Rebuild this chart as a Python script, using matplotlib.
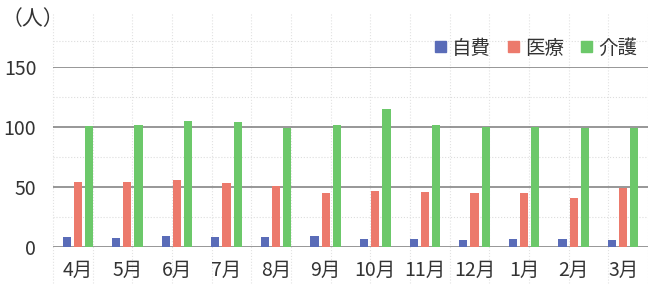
import numpy as np
import matplotlib.pyplot as plt
from matplotlib.patches import Patch

plt.rcParams['font.family'] = ['Noto Sans CJK JP', 'DejaVu Sans']

# 月別の利用者数
months = ['4月', '5月', '6月', '7月', '8月', '9月', '10月', '11月', '12月', '1月', '2月', '3月']
jihi = [8, 7.5, 9.5, 8, 8, 9, 7, 7, 5.5, 7, 7, 5.5]
iryo = [54, 54, 56, 53.5, 50.5, 45, 47, 46, 45, 45, 41, 49]
kaigo = [100.5, 101.5, 105, 104, 99, 102, 115, 102, 100, 100, 99.5, 99]

colors = ['#5a6cb8', '#ec7a6c', '#6cc86a']
names = ['自費', '医療', '介護']

fig = plt.figure(figsize=(6.48, 2.86), dpi=100)
ax = fig.add_axes([53 / 648, 1 - 247 / 286, 1 - 53 / 648, 180 / 286])

x = np.arange(len(months))
w = 0.165
off = 0.225
for i, vals in enumerate([jihi, iryo, kaigo]):
    ax.bar(x + (i - 1) * off, vals, width=w, color=colors[i], zorder=3)

ax.set_xlim(-0.5, len(months) - 0.5)
ax.set_ylim(0, 150)
ax.set_yticks([0, 50, 100, 150])
ax.set_xticks(x)
ax.set_xticklabels(months)

# 薄い点線（方眼紙のような背景）
for yv in [25, 75, 125, 172]:
    ax.axhline(yv, color='#dddddd', lw=0.8, ls=':', zorder=0, clip_on=False)
for xv in np.arange(-0.5, 12, 0.8):
    ax.axvline(xv, color='#e2e2e2', lw=0.8, ls=':', zorder=0, ymin=-0.2, ymax=1.3, clip_on=False)

for yv in [0, 50, 100, 150]:
    ax.axhline(yv, color='#7a7a7a', lw=1.1, zorder=2)

for s in ax.spines.values():
    s.set_visible(False)
ax.tick_params(axis='both', length=0, labelsize=14, colors='#333333')
ax.tick_params(axis='y', pad=12)
ax.tick_params(axis='x', pad=9)

fig.text(2 / 648, 1 - 19 / 286, '（人）', fontsize=15, color='#333333', va='center', ha='left')

handles = [Patch(color=c, label=n) for c, n in zip(colors, names)]
fig.legend(handles=handles, loc='center right', bbox_to_anchor=(1.01, 1 - 48 / 286),
           ncol=3, frameon=False, fontsize=14, handlelength=0.55, handleheight=0.55,
           handletextpad=0.3, columnspacing=0.9, labelcolor='#333333')

fig.savefig('out.png', dpi=100)
